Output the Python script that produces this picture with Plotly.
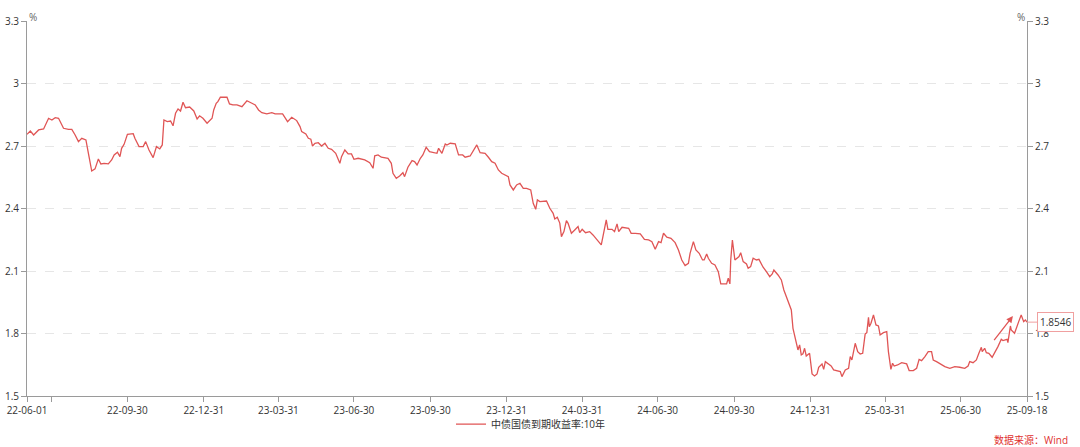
import plotly.graph_objects as go

dates = [
    "2022-06-01", "2022-06-05", "2022-06-09", "2022-06-15", "2022-06-21", "2022-06-27", "2022-07-01", "2022-07-05",
    "2022-07-09", "2022-07-15", "2022-07-21", "2022-07-25", "2022-07-29", "2022-08-02", "2022-08-06", "2022-08-11",
    "2022-08-14", "2022-08-18", "2022-08-22", "2022-08-26", "2022-08-29", "2022-09-02", "2022-09-07", "2022-09-11",
    "2022-09-14", "2022-09-18", "2022-09-21", "2022-09-23", "2022-09-26", "2022-09-30", "2022-10-07", "2022-10-09",
    "2022-10-14", "2022-10-19", "2022-10-22", "2022-10-26", "2022-10-31", "2022-11-04", "2022-11-08", "2022-11-11",
    "2022-11-13", "2022-11-17", "2022-11-21", "2022-11-24", "2022-11-27", "2022-11-30", "2022-12-03", "2022-12-06",
    "2022-12-09", "2022-12-14", "2022-12-19", "2022-12-23", "2022-12-26", "2022-12-30", "2023-01-04", "2023-01-10",
    "2023-01-12", "2023-01-15", "2023-01-17", "2023-01-20", "2023-01-28", "2023-01-31", "2023-02-04", "2023-02-09",
    "2023-02-15", "2023-02-21", "2023-02-27", "2023-03-03", "2023-03-07", "2023-03-11", "2023-03-17", "2023-03-23",
    "2023-03-27", "2023-04-05", "2023-04-11", "2023-04-16", "2023-04-22", "2023-04-26", "2023-04-28", "2023-05-03",
    "2023-05-06", "2023-05-09", "2023-05-11", "2023-05-14", "2023-05-18", "2023-05-22", "2023-05-26", "2023-05-30",
    "2023-06-03", "2023-06-08", "2023-06-13", "2023-06-15", "2023-06-19", "2023-06-23", "2023-06-27", "2023-06-30",
    "2023-07-05", "2023-07-13", "2023-07-19", "2023-07-23", "2023-07-25", "2023-07-29", "2023-08-02", "2023-08-10",
    "2023-08-14", "2023-08-16", "2023-08-20", "2023-08-24", "2023-08-28", "2023-08-30", "2023-09-03", "2023-09-08",
    "2023-09-11", "2023-09-14", "2023-09-18", "2023-09-21", "2023-09-25", "2023-09-29", "2023-10-08", "2023-10-10",
    "2023-10-14", "2023-10-18", "2023-10-20", "2023-10-24", "2023-10-30", "2023-11-03", "2023-11-08", "2023-11-11",
    "2023-11-17", "2023-11-22", "2023-11-25", "2023-11-29", "2023-12-05", "2023-12-09", "2023-12-13", "2023-12-17",
    "2023-12-21", "2023-12-25", "2023-12-29", "2024-01-02", "2024-01-04", "2024-01-08", "2024-01-12", "2024-01-16",
    "2024-01-20", "2024-01-24", "2024-01-29", "2024-02-01", "2024-02-04", "2024-02-06", "2024-02-09", "2024-02-17",
    "2024-02-21", "2024-02-25", "2024-02-27", "2024-03-01", "2024-03-04", "2024-03-06", "2024-03-09", "2024-03-12",
    "2024-03-14", "2024-03-18", "2024-03-22", "2024-03-26", "2024-03-28", "2024-03-31", "2024-04-04", "2024-04-09",
    "2024-04-13", "2024-04-17", "2024-04-23", "2024-04-25", "2024-04-27", "2024-04-29", "2024-05-01", "2024-05-06",
    "2024-05-09", "2024-05-12", "2024-05-14", "2024-05-18", "2024-05-26", "2024-05-29", "2024-06-03", "2024-06-09",
    "2024-06-14", "2024-06-19", "2024-06-23", "2024-06-27", "2024-07-01", "2024-07-04", "2024-07-07", "2024-07-11",
    "2024-07-16", "2024-07-21", "2024-07-25", "2024-07-29", "2024-08-02", "2024-08-06", "2024-08-08", "2024-08-12",
    "2024-08-15", "2024-08-19", "2024-08-23", "2024-08-25", "2024-08-28", "2024-08-30", "2024-09-03", "2024-09-07",
    "2024-09-11", "2024-09-14", "2024-09-21", "2024-09-23", "2024-09-25", "2024-09-26", "2024-09-28", "2024-10-01",
    "2024-10-06", "2024-10-08", "2024-10-11", "2024-10-15", "2024-10-17", "2024-10-20", "2024-10-23", "2024-10-27",
    "2024-10-30", "2024-11-02", "2024-11-04", "2024-11-08", "2024-11-12", "2024-11-15", "2024-11-17", "2024-11-22",
    "2024-11-26", "2024-11-29", "2024-12-02", "2024-12-05", "2024-12-08", "2024-12-10", "2024-12-13", "2024-12-16",
    "2024-12-18", "2024-12-20", "2024-12-22", "2024-12-24", "2024-12-26", "2024-12-30", "2025-01-02", "2025-01-05",
    "2025-01-08", "2025-01-10", "2025-01-14", "2025-01-16", "2025-01-18", "2025-01-22", "2025-01-25", "2025-01-28",
    "2025-02-05", "2025-02-07", "2025-02-11", "2025-02-15", "2025-02-17", "2025-02-19", "2025-02-23", "2025-02-26",
    "2025-03-01", "2025-03-04", "2025-03-07", "2025-03-09", "2025-03-11", "2025-03-12", "2025-03-14", "2025-03-17",
    "2025-03-20", "2025-03-23", "2025-03-25", "2025-03-29", "2025-04-02", "2025-04-04", "2025-04-07", "2025-04-09",
    "2025-04-11", "2025-04-15", "2025-04-20", "2025-04-26", "2025-04-29", "2025-05-04", "2025-05-08", "2025-05-11",
    "2025-05-14", "2025-05-18", "2025-05-22", "2025-05-26", "2025-05-28", "2025-06-01", "2025-06-07", "2025-06-11",
    "2025-06-17", "2025-06-23", "2025-06-29", "2025-07-05", "2025-07-09", "2025-07-11", "2025-07-15", "2025-07-19",
    "2025-07-22", "2025-07-25", "2025-07-26", "2025-07-29", "2025-07-31", "2025-08-03", "2025-08-07", "2025-08-10",
    "2025-08-14", "2025-08-18", "2025-08-20", "2025-08-25", "2025-08-26", "2025-08-29", "2025-08-30", "2025-09-03",
    "2025-09-06", "2025-09-08", "2025-09-11", "2025-09-14", "2025-09-16", "2025-09-18",
]

yield_10y = [
    2.756, 2.772, 2.753, 2.777, 2.782, 2.833, 2.825, 2.836,
    2.833, 2.785, 2.780, 2.780, 2.753, 2.721, 2.737, 2.729,
    2.665, 2.580, 2.590, 2.638, 2.614, 2.617, 2.614, 2.633,
    2.657, 2.670, 2.649, 2.689, 2.708, 2.756, 2.759, 2.737,
    2.697, 2.697, 2.721, 2.681, 2.644, 2.697, 2.686, 2.705,
    2.825, 2.817, 2.820, 2.797, 2.857, 2.878, 2.868, 2.910,
    2.884, 2.887, 2.868, 2.830, 2.845, 2.833, 2.809, 2.833,
    2.873, 2.905, 2.913, 2.934, 2.934, 2.902, 2.897, 2.897,
    2.889, 2.917, 2.905, 2.897, 2.873, 2.860, 2.854, 2.860,
    2.854, 2.854, 2.817, 2.838, 2.822, 2.793, 2.769, 2.758,
    2.737, 2.733, 2.700, 2.713, 2.716, 2.700, 2.713, 2.689,
    2.684, 2.665, 2.617, 2.649, 2.681, 2.662, 2.662, 2.636,
    2.641, 2.633, 2.620, 2.593, 2.653, 2.657, 2.646, 2.641,
    2.617, 2.569, 2.545, 2.556, 2.572, 2.553, 2.598, 2.630,
    2.625, 2.609, 2.641, 2.657, 2.694, 2.673, 2.665, 2.689,
    2.665, 2.710, 2.705, 2.713, 2.710, 2.657, 2.657, 2.646,
    2.652, 2.689, 2.705, 2.668, 2.665, 2.646, 2.625, 2.617,
    2.585, 2.569, 2.561, 2.553, 2.513, 2.489, 2.513, 2.521,
    2.497, 2.497, 2.489, 2.425, 2.396, 2.441, 2.433, 2.436,
    2.401, 2.377, 2.350, 2.358, 2.330, 2.265, 2.289, 2.342,
    2.329, 2.281, 2.297, 2.313, 2.284, 2.300, 2.284, 2.289,
    2.273, 2.252, 2.225, 2.265, 2.313, 2.345, 2.300, 2.300,
    2.289, 2.326, 2.289, 2.310, 2.305, 2.281, 2.281, 2.278,
    2.252, 2.249, 2.241, 2.204, 2.241, 2.236, 2.281, 2.262,
    2.257, 2.236, 2.201, 2.153, 2.126, 2.137, 2.185, 2.241,
    2.201, 2.185, 2.153, 2.153, 2.182, 2.161, 2.137, 2.129,
    2.097, 2.038, 2.038, 2.065, 2.038, 2.153, 2.249, 2.153,
    2.169, 2.188, 2.145, 2.134, 2.113, 2.121, 2.161, 2.153,
    2.156, 2.129, 2.118, 2.097, 2.073, 2.086, 2.105, 2.081,
    2.057, 2.009, 1.977, 1.948, 1.913, 1.825, 1.769, 1.721,
    1.745, 1.697, 1.702, 1.729, 1.692, 1.705, 1.606, 1.596,
    1.606, 1.638, 1.654, 1.628, 1.665, 1.654, 1.644, 1.625,
    1.617, 1.593, 1.625, 1.633, 1.689, 1.673, 1.753, 1.713,
    1.702, 1.705, 1.798, 1.804, 1.878, 1.833, 1.849, 1.889,
    1.841, 1.836, 1.793, 1.804, 1.809, 1.713, 1.628, 1.657,
    1.644, 1.649, 1.660, 1.654, 1.622, 1.622, 1.633, 1.676,
    1.670, 1.689, 1.713, 1.713, 1.673, 1.665, 1.649, 1.641,
    1.633, 1.641, 1.638, 1.633, 1.644, 1.665, 1.660, 1.673,
    1.705, 1.734, 1.713, 1.729, 1.708, 1.705, 1.686, 1.705,
    1.737, 1.772, 1.766, 1.772, 1.756, 1.836, 1.817, 1.801,
    1.841, 1.857, 1.889, 1.857, 1.865, 1.8546,
]

tick_dates = [
    "2022-06-01", "2022-06-30", "2022-09-30", "2022-12-31", "2023-03-31", "2023-06-30", "2023-09-30",
    "2023-12-31", "2024-03-31", "2024-06-30", "2024-09-30", "2024-12-31", "2025-03-31", "2025-06-30",
    "2025-09-18",
]
tick_labels = [
    "22-06-01", "", "22-09-30", "22-12-31", "23-03-31", "23-06-30", "23-09-30",
    "23-12-31", "24-03-31", "24-06-30", "24-09-30", "24-12-31", "25-03-31", "25-06-30",
    "25-09-18",
]
y_ticks = [1.5, 1.8, 2.1, 2.4, 2.7, 3.0, 3.3]
y_labels = ["1.5", "1.8", "2.1", "2.4", "2.7", "3", "3.3"]

series_name = "中债国债到期收益率:10年"
last_label = "1.8546"
arrow_start = ("2025-08-08", 1.761)
arrow_end = ("2025-09-01", 1.884)

RED = "#e05555"
AXIS = "#9a9a9a"
TXT = "#333333"
FONT = "Open Sans, Noto Sans CJK SC, sans-serif"

fig = go.Figure()
fig.add_trace(go.Scatter(
    x=dates, y=yield_10y, mode="lines", name=series_name,
    line=dict(color=RED, width=1.3), hoverinfo="skip",
))
fig.add_trace(go.Scatter(
    x=dates, y=yield_10y, mode="lines", yaxis="y2", showlegend=False,
    line=dict(color="rgba(0,0,0,0)", width=0), hoverinfo="skip",
))

yax = dict(
    range=[1.5, 3.3], tickvals=y_ticks, ticktext=y_labels,
    showline=True, linecolor=AXIS, linewidth=1,
    ticks="outside", ticklen=5, tickcolor=AXIS,
    tickfont=dict(size=10, color=TXT, family=FONT),
    showgrid=True, gridcolor="#e6e6e6", griddash="dash", gridwidth=1,
    zeroline=False, fixedrange=True, automargin=False,
)
fig.update_layout(
    width=1080, height=447,
    margin=dict(l=27, r=53, t=21, b=51, autoexpand=False),
    paper_bgcolor="white", plot_bgcolor="white",
    font=dict(family=FONT, size=10, color=TXT),
    xaxis=dict(
        type="date", range=["2022-06-01", "2025-09-18"],
        tickvals=tick_dates, ticktext=tick_labels,
        showline=True, linecolor=AXIS, linewidth=1,
        ticks="outside", ticklen=5, tickcolor=AXIS,
        tickfont=dict(size=10, color=TXT, family=FONT),
        showgrid=False, zeroline=False, automargin=False,
    ),
    yaxis=yax,
    yaxis2=dict(yax, overlaying="y", side="right", showgrid=False),
    legend=dict(
        orientation="h", x=0.504, xanchor="center", y=-0.075, yanchor="middle",
        bgcolor="rgba(0,0,0,0)",
        font=dict(size=10, color=TXT, family=FONT), itemwidth=30,
    ),
    showlegend=True,
)

fig.add_annotation(xref="paper", yref="paper", x=0, y=1, yshift=13, text="%",
                   showarrow=False, font=dict(size=10, color="#666"))
fig.add_annotation(xref="paper", yref="paper", x=1, y=1, yshift=13, text="%",
                   showarrow=False, font=dict(size=10, color="#666"))
fig.add_annotation(xref="paper", yref="paper", x=1, y=0, xanchor="right", yanchor="middle",
                   xshift=43, yshift=-44, text="数据来源：Wind", showarrow=False,
                   font=dict(size=10, color="#e03030", family=FONT))
fig.add_annotation(x=arrow_end[0], y=arrow_end[1], ax=arrow_start[0], ay=arrow_start[1],
                   xref="x", yref="y", axref="x", ayref="y", text="", showarrow=True,
                   arrowhead=2, arrowsize=1, arrowwidth=1.3, arrowcolor=RED)
fig.add_annotation(x=dates[-1], y=yield_10y[-1], xref="x", yref="y", text=last_label,
                   showarrow=True, ax=28, ay=0, arrowhead=0, arrowwidth=1, arrowcolor="#f0a0a0",
                   bordercolor="#f0a0a0", borderwidth=1, borderpad=2, bgcolor="white",
                   font=dict(size=10, color=TXT, family=FONT))

fig.write_html(
    "out.html",
    config={"displayModeBar": False},
    post_script="document.body.style.margin='0';document.body.style.overflow='hidden';",
)
